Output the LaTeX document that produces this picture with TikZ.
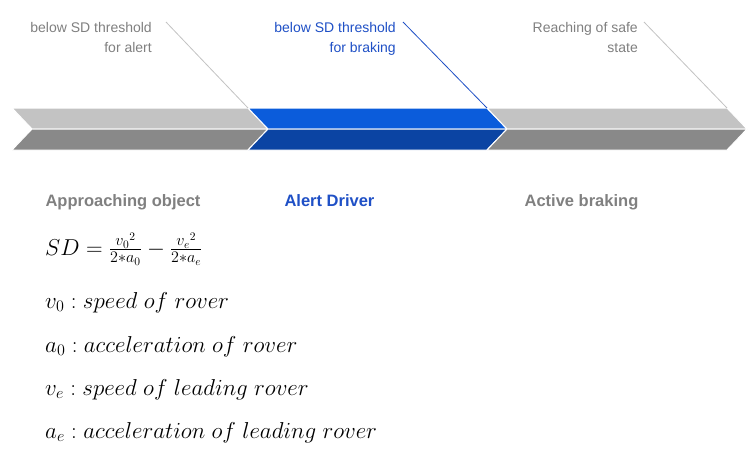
\RequirePackage{fix-cm}
\documentclass[tikz,border=0pt]{standalone}
\usepackage{fontspec}
\setmainfont{Liberation Sans}
\definecolor{segl}{HTML}{C3C3C3}
\definecolor{segd}{HTML}{898989}
\definecolor{blul}{HTML}{0B5CDB}
\definecolor{blud}{HTML}{0B44A3}
\definecolor{txtg}{HTML}{808080}
\definecolor{txtb}{HTML}{1F50C6}
\begin{document}
\begin{tikzpicture}[x=1pt,y=-1pt,line join=miter,font=\fontsize{14}{20}\selectfont,
		lbl/.style={align=right,anchor=north east,inner sep=0pt},
		head/.style={font=\fontsize{16.5}{20}\selectfont\bfseries,anchor=base,inner sep=0pt},
		eq/.style={font=\fontsize{23}{27}\selectfont,anchor=base west,inner sep=0pt}]
	\path[use as bounding box,fill=white] (0,0) rectangle (756,466);
	\foreach \xa/\xb/\cl/\cd in {12/248/segl/segd,248/487/blul/blud,487/727/segl/segd}{
			\fill[\cl,draw=white,line width=1pt] (\xa,108)--(\xb,108)--(\xb+20,129)--(\xa+20,129)--cycle;%top
			\fill[\cd,draw=white,line width=1pt] (\xa+20,129)--(\xb+20,129)--(\xb,150)--(\xa,150)--cycle;%bottom
		}
	\coordinate (cA) at (248,108);
	\coordinate (cB) at (487,108);
	\coordinate (cC) at (727,108);
	\node[lbl,txtg] (lA) at (152,22) {below SD threshold\\for alert};
	\node[lbl,txtb] (lB) at (396,22) {below SD threshold\\for braking};
	\node[lbl,txtg] (lC) at (638,22) {Reaching of safe\\state};
	\draw[segl,line width=0.8pt] ([xshift=14pt]lA.north east)--(cA);
	\draw[txtb,line width=0.8pt] ([xshift=7pt]lB.north east)--(cB);
	\draw[segl,line width=0.8pt] ([xshift=6pt]lC.north east)--(cC);
	\node[head,txtg] (hA) at (123,206) {Approaching object};
	\node[head,txtb] (hB) at (329.5,206) {Alert Driver};
	\node[head,txtg] (hC) at (581.5,206) {Active braking};
	\node[eq] (sd) at (45,255) {$SD=\frac{{v_0}^2}{2*a_0}-\frac{{v_e}^2}{2*a_e}$};
	\node[eq] (vo) at (45,308) {$v_0 : speed\ of\ rover$};
	\node[eq] (ao) at (45,352) {$a_0 : acceleration\ of\ rover$};
	\node[eq] (ve) at (45,395) {$v_e : speed\ of\ leading\ rover$};
	\node[eq] (ae) at (45,438) {$a_e : acceleration\ of\ leading\ rover$};
\end{tikzpicture}
\end{document}
